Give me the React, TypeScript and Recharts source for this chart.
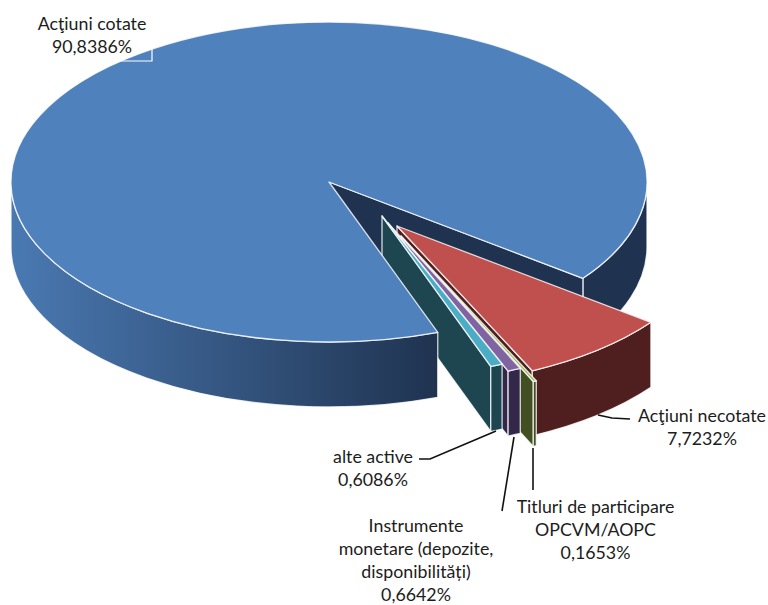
import React from 'react';
import { PieChart, Pie } from 'recharts';

const names = ['Acţiuni cotate', 'Acţiuni necotate', 'Titluri de participare', 'Instrumente', 'alte active'];
const values = [90.8386, 7.7232, 0.1653, 0.6642, 0.6086];
const labelLines = [
  ['Acţiuni cotate'],
  ['Acţiuni necotate'],
  ['Titluri de participare', 'OPCVM/AOPC'],
  ['Instrumente', 'monetare (depozite,', 'disponibilități)'],
  ['alte active'],
];

const TOP_COLORS = ['#4F81BD', '#C0504D', '#9BBB59', '#8064A2', '#4BACC6'];
const WALL_COLORS = ['#1F3350', '#4E1F1E', '#414F22', '#33284A', '#1D4651'];

// how far each slice is pulled out of the pie, in pixels
const EXPLODE = [[0, 0], [68, 44], [72, 54], [59, 41], [53, 34]];

const CX = 329;
const CY = 182;
const RX = 318;
const SQUASH = 0.503;
const DEPTH = 65;
const EDGE = 'rgba(255,255,255,0.8)';

const LABEL_POS = [
  { x: 92, y: 30 },
  { x: 702, y: 422 },
  { x: 595.5, y: 513 },
  { x: 416, y: 532 },
  { x: 373, y: 463 },
];
const LEADERS = [
  { points: '120,61 152,61 152,49', stroke: '#ffffff', width: 1.2 },
  { points: '598,415 612,418 630,419', stroke: '#111111', width: 1.6 },
  { points: '533,448 533,490', stroke: '#111111', width: 1.6 },
  { points: '514,437 502,511', stroke: '#111111', width: 1.6 },
  { points: '419,459 430,459 496,431', stroke: '#111111', width: 1.6 },
];

const tableData = names.map((name, i) => ({ name, value: values[i] }));

function pt(angle: number, dx: number, dy: number) {
  const rad = (angle * Math.PI) / 180;
  return [CX + dx + RX * Math.cos(rad), CY + dy - RX * SQUASH * Math.sin(rad)];
}

// top face of a slice, angles as Recharts gives them (going clockwise)
function topPath(start: number, end: number, dx: number, dy: number) {
  const a = pt(start, dx, dy);
  const b = pt(end, dx, dy);
  const large = Math.abs(end - start) > 180 ? 1 : 0;
  return `M${CX + dx},${CY + dy} L${a[0]},${a[1]} A${RX},${RX * SQUASH} 0 ${large} 1 ${b[0]},${b[1]} Z`;
}

// rim of the slice between two angles
function rimPath(start: number, end: number, dx: number, dy: number) {
  const a = pt(start, dx, dy);
  const b = pt(end, dx, dy);
  const ry = RX * SQUASH;
  return `M${a[0]},${a[1]} A${RX},${ry} 0 0 1 ${b[0]},${b[1]} L${b[0]},${b[1] + DEPTH} A${RX},${ry} 0 0 0 ${a[0]},${a[1] + DEPTH} Z`;
}

// flat cut face going from the tip to the outer edge
function cutPath(angle: number, dx: number, dy: number) {
  const b = pt(angle, dx, dy);
  const tx = CX + dx;
  const ty = CY + dy;
  return `M${tx},${ty} L${b[0]},${b[1]} L${b[0]},${b[1] + DEPTH} L${tx},${ty + DEPTH} Z`;
}

// main slice, the walls that sit behind everything else
function backShape(props: any) {
  if (names.indexOf(props.name) !== 0) return <g />;
  const end = props.endAngle;
  return (
    <g stroke={EDGE} strokeWidth={1.3} strokeLinejoin="round">
      <path d={rimPath(-360, end, 0, 0)} fill={WALL_COLORS[0]} />
      <path d={cutPath(end, 0, 0)} fill={WALL_COLORS[0]} />
    </g>
  );
}

// the pulled out slices, each one over the one before it
function explodedShape(props: any) {
  const i = names.indexOf(props.name);
  if (i === 0) return <g />;
  const [dx, dy] = EXPLODE[i];
  const { startAngle, endAngle } = props;
  return (
    <g stroke={EDGE} strokeWidth={1.3} strokeLinejoin="round">
      <path d={cutPath(endAngle, dx, dy)} fill={WALL_COLORS[i]} />
      <path d={rimPath(startAngle, endAngle, dx, dy)} fill={WALL_COLORS[i]} />
      <path d={topPath(startAngle, endAngle, dx, dy)} fill={TOP_COLORS[i]} />
    </g>
  );
}

// main slice top and its front wall, these cover the tips of the small slices
function frontShape(props: any) {
  if (names.indexOf(props.name) !== 0) return <g />;
  const { startAngle, endAngle } = props;
  return (
    <g stroke={EDGE} strokeWidth={1.3} strokeLinejoin="round">
      <path d={rimPath(startAngle, -180, 0, 0)} fill="url(#frontWall)" />
      <path d={topPath(startAngle, endAngle, 0, 0)} fill={TOP_COLORS[0]} />
    </g>
  );
}

function renderLabel(props: any) {
  const i = names.indexOf(props.name);
  const pos = LABEL_POS[i];
  const leader = LEADERS[i];
  const lines = [...labelLines[i], `${values[i].toFixed(4).replace('.', ',')}%`];
  return (
    <g key={props.name}>
      <polyline points={leader.points} fill="none" stroke={leader.stroke} strokeWidth={leader.width} />
      <text x={pos.x} y={pos.y} textAnchor="middle" fontFamily="Lato, sans-serif" fontSize={17.8} fill="#1c1c1c">
        {lines.map((line, n) => (
          <tspan key={n} x={pos.x} y={pos.y + n * 23}>
            {line}
          </tspan>
        ))}
      </text>
    </g>
  );
}

export default function App() {
  const pieProps = {
    data: tableData,
    dataKey: 'value',
    nameKey: 'name',
    cx: CX,
    cy: CY,
    innerRadius: 0,
    outerRadius: RX,
    startAngle: -70,
    endAngle: -430,
    isAnimationActive: false,
    rootTabIndex: -1,
  };

  return (
    <div style={{ position: 'absolute', left: 0, top: 0, width: 768, height: 605, background: '#fff' }}>
      <PieChart width={768} height={605} margin={{ top: 0, right: 0, bottom: 0, left: 0 }}>
        <defs>
          <linearGradient id="frontWall" gradientUnits="userSpaceOnUse" x1="11" y1="0" x2="438" y2="0">
            <stop offset="0%" stopColor="#4A79B2" />
            <stop offset="100%" stopColor="#1F3350" />
          </linearGradient>
        </defs>
        <Pie {...pieProps} shape={backShape} />
        <Pie {...pieProps} shape={explodedShape} />
        <Pie {...pieProps} shape={frontShape} label={renderLabel} labelLine={false} />
      </PieChart>
    </div>
  );
}
